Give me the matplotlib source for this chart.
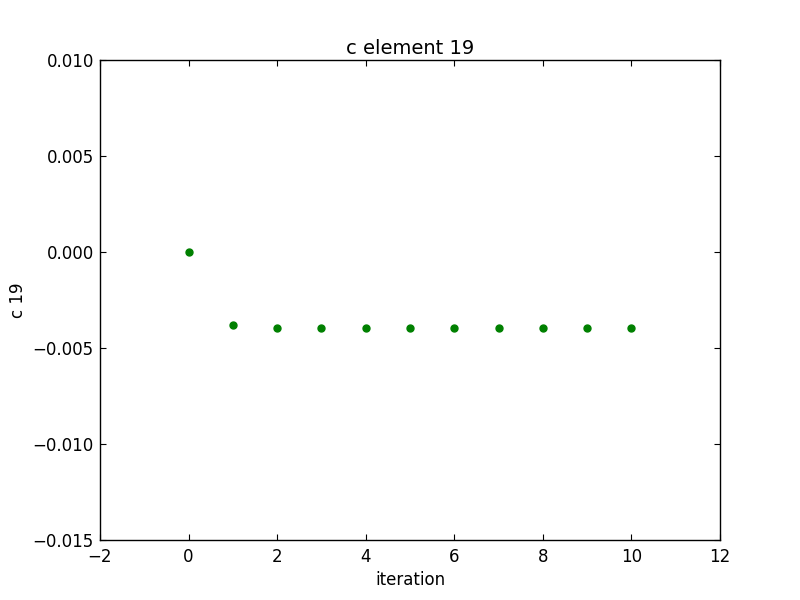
import matplotlib
matplotlib.use("Agg")
import matplotlib.pyplot as plt

iterations = [0, 1, 2, 3, 4, 5, 6, 7, 8, 9, 10]
c19 = [0.0, -0.00382, -0.003975, -0.003975, -0.003975, -0.003975,
       -0.003975, -0.003975, -0.003975, -0.003975, -0.003975]

plt.rcParams['font.family'] = ['DejaVu Sans']
plt.rcParams['font.size'] = 12
plt.rcParams['xtick.direction'] = 'in'
plt.rcParams['ytick.direction'] = 'in'
plt.rcParams['xtick.top'] = True
plt.rcParams['ytick.right'] = True
plt.rcParams['xtick.major.size'] = 4
plt.rcParams['ytick.major.size'] = 4
plt.rcParams['axes.linewidth'] = 1.0

fig = plt.figure(figsize=(8, 6), dpi=100)
ax = fig.add_axes([0.125, 0.1, 0.775, 0.8])
ax.plot(iterations, c19, linestyle='none', marker='o', markersize=5,
        color='green', markeredgecolor='green')
ax.set_xlim(-2, 12)
ax.set_ylim(-0.015, 0.010)
ax.set_xticks([-2, 0, 2, 4, 6, 8, 10, 12])
ax.set_yticks([-0.015, -0.010, -0.005, 0.000, 0.005, 0.010])
ax.set_yticklabels(['\u22120.015', '\u22120.010', '\u22120.005', '0.000', '0.005', '0.010'])
ax.set_xticklabels(['\u22122', '0', '2', '4', '6', '8', '10', '12'])
ax.tick_params(axis='x', pad=6)
ax.tick_params(axis='y', pad=4.5)
ax.set_title('c element 19', fontsize=14, pad=4.5)
ax.set_xlabel('iteration', labelpad=3.5)
ax.set_ylabel('c 19')
fig.savefig('out.png', dpi=100)
